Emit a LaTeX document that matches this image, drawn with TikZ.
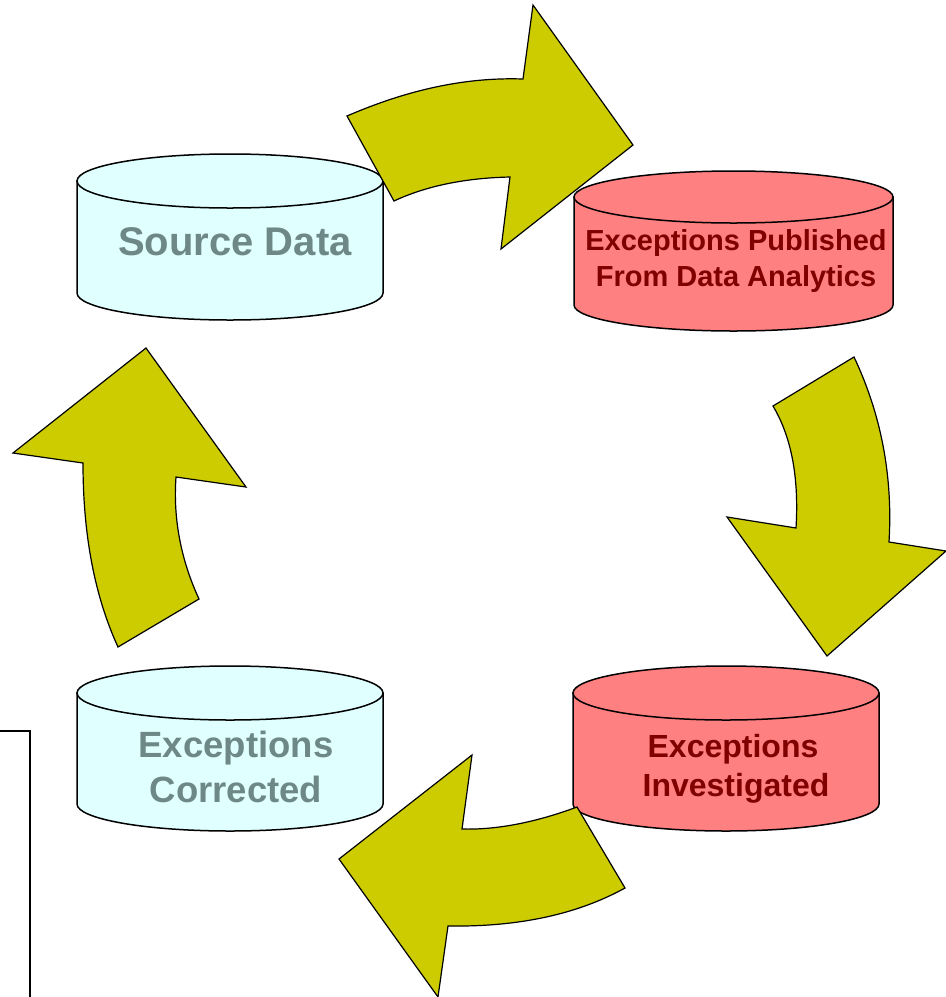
\documentclass[tikz,border=0pt]{standalone}
\usepackage{fontspec}
\setmainfont{Liberation Sans}
\definecolor{cyanfill}{RGB}{224,255,255}
\definecolor{redfill}{RGB}{255,128,128}
\definecolor{greytext}{RGB}{110,136,136}
\definecolor{redtext}{RGB}{128,0,0}
\definecolor{arrowfill}{RGB}{204,204,0}
\newcommand\mydrum[6]{%
  \pgfmathsetmacro\dcx{(#1+#2)/2}%
  \pgfmathsetmacro\drx{(#2-#1)/2}%
  \pgfmathsetmacro\dk{0.5523*\drx}%
  \pgfmathsetmacro\dky{0.5523*#5}%
  \pgfmathsetmacro\dlow{#4+#5}%
  \filldraw[fill=#6, drumline] (#1,#3) -- (#1,#4) .. controls (#1,#4+\dky) and (\dcx-\dk,\dlow) .. (\dcx,\dlow) .. controls (\dcx+\dk,\dlow) and (#2,#4+\dky) .. (#2,#4) -- (#2,#3) -- cycle;
  \filldraw[fill=#6, drumline] (\dcx,#3) ellipse [x radius=\drx pt, y radius=#5 pt];
}
\tikzset{
  drumline/.style={draw=black, line width=1.5pt},
  bigarrow/.style={fill=arrowfill, draw=black, line width=1.2pt, line join=miter},
  greylabel/.style={text=greytext, font=\bfseries, anchor=base, inner sep=0pt},
  redlabel/.style={text=redtext, font=\bfseries, anchor=base, inner sep=0pt},
}
\begin{document}
\begin{tikzpicture}[x=1pt, y=-1pt]
\useasboundingbox (0,0) rectangle (946,997);
% partial frame at lower left
\draw[line width=1.5pt] (0,731) -- (30,731) -- (30,1000);
% cylinders
\mydrum{77}{383}{181}{293}{27}{cyanfill}
\mydrum{574}{893}{197}{305}{26}{redfill}
\mydrum{573}{879}{693}{804}{27}{redfill}
\mydrum{77}{383}{693}{804}{27}{cyanfill}
% labels
\node[greylabel, font=\bfseries\fontsize{40}{48}\selectfont] (src) at (235,255) {Source Data};
\node[redlabel, font=\bfseries\fontsize{29}{35}\selectfont] (pubA) at (736,250) {Exceptions Published};
\node[redlabel, font=\bfseries\fontsize{29}{35}\selectfont] (pubB) at (736,286) {From Data Analytics};
\node[redlabel, font=\bfseries\fontsize{32}{38}\selectfont] (invA) at (733,757) {Exceptions};
\node[redlabel, font=\bfseries\fontsize{32}{38}\selectfont] (invB) at (736,796) {Investigated};
\node[greylabel, font=\bfseries\fontsize{36.5}{44}\selectfont] (corA) at (236,757) {Exceptions};
\node[greylabel, font=\bfseries\fontsize{36.5}{44}\selectfont] (corB) at (236,802) {Corrected};
% curved arrows
\filldraw[bigarrow] (347,116) .. controls (407,90) and (465,77) .. (523,79) -- (533,5) -- (633,145) -- (501,249) -- (510,177) .. controls (465,178) and (426,186) .. (394,201) -- cycle;
\filldraw[bigarrow] (854,357) .. controls (881,414) and (893,476) .. (889,542) -- (946,551) -- (827,656) -- (727,517) -- (796,528) .. controls (799,479) and (792,438) .. (773,406) -- cycle;
\filldraw[bigarrow] (625,888) .. controls (576,915) and (517,927) .. (448,926) -- (438,997) -- (339,859) -- (472,755) -- (462,829) .. controls (495,830) and (534,823) .. (577,807) -- cycle;
\filldraw[bigarrow] (118,647) .. controls (95,597) and (83,536) .. (83,463) -- (13,453) -- (146,348) -- (246,487) -- (176,477) .. controls (173,519) and (181,560) .. (199,599) -- cycle;
\end{tikzpicture}
\end{document}
